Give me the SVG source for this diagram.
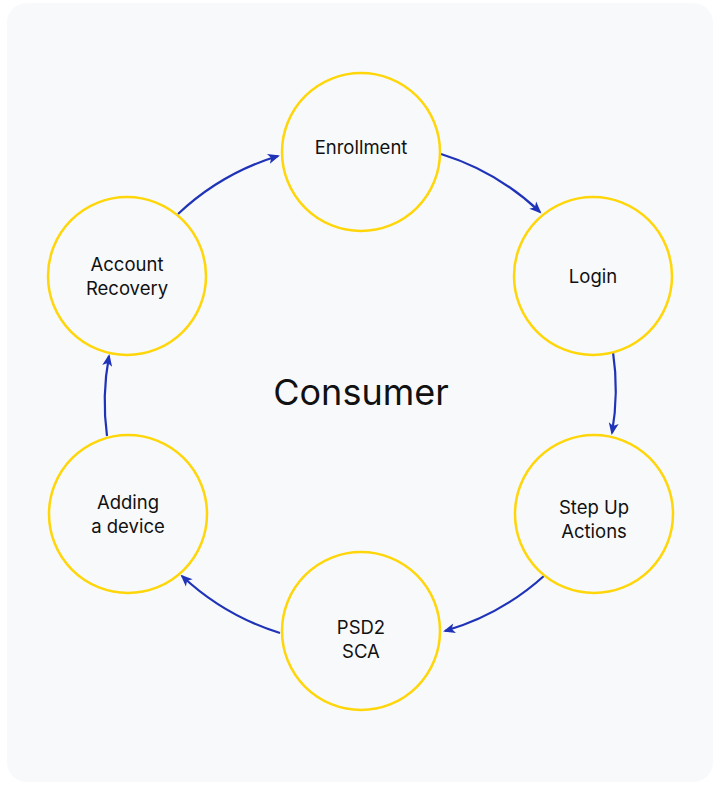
<svg xmlns="http://www.w3.org/2000/svg" width="719" height="785" viewBox="0 0 719 785">
<style>
.node{fill:#f8f9fb;stroke:#FFD60A;stroke-width:2.5}
.lbl{font-family:Inter,"Liberation Sans",sans-serif;font-size:18.5px;fill:#111;text-anchor:middle}
.edge{fill:none;stroke:#1F33B8;stroke-width:2.2;marker-end:url(#ah)}
</style>
<defs>
<marker id="ah" viewBox="0 0 12 12" refX="10" refY="6" markerWidth="12" markerHeight="12" markerUnits="userSpaceOnUse" orient="auto" overflow="visible">
<path d="M0 1 L12 6 L0 11 L3 6 Z" fill="#1F33B8"/>
</marker>
</defs>
<rect x="0" y="0" width="719" height="785" fill="#ffffff"/>
<rect x="7" y="3" width="706" height="779" rx="20" fill="#f8f9fa"/>
<g id="connectors">
<path class="edge" d="M441 154 A253 253 0 0 1 540 212"/>
<path class="edge" d="M613 352 A253 253 0 0 1 612 433"/>
<path class="edge" d="M545 575 A253 253 0 0 1 445 631"/>
<path class="edge" d="M280 633 A253 253 0 0 1 182 576"/>
<path class="edge" d="M107 436 A253 253 0 0 1 109 356"/>
<path class="edge" d="M178 214 A253 253 0 0 1 278 156"/>
</g>
<g id="enrollment"><circle class="node" cx="361" cy="152" r="79"/><text class="lbl" x="361" y="154">Enrollment</text></g>
<g id="login"><circle class="node" cx="593" cy="276" r="79"/><text class="lbl" x="593" y="283">Login</text></g>
<g id="stepup"><circle class="node" cx="594" cy="514" r="79"/><text class="lbl" x="594" y="514">Step Up</text><text class="lbl" x="594" y="538">Actions</text></g>
<g id="psd2"><circle class="node" cx="361" cy="631" r="79"/><text class="lbl" x="361" y="634">PSD2</text><text class="lbl" x="361" y="658">SCA</text></g>
<g id="adding"><circle class="node" cx="128" cy="514" r="79"/><text class="lbl" x="128" y="509">Adding</text><text class="lbl" x="128" y="533">a device</text></g>
<g id="recovery"><circle class="node" cx="127" cy="276" r="79"/><text class="lbl" x="127" y="271">Account</text><text class="lbl" x="127" y="295">Recovery</text></g>
<g id="consumer"><text x="361" y="405" style="font-family:Inter,'Liberation Sans',sans-serif;font-size:36px;fill:#111;text-anchor:middle">Consumer</text></g>
</svg>
